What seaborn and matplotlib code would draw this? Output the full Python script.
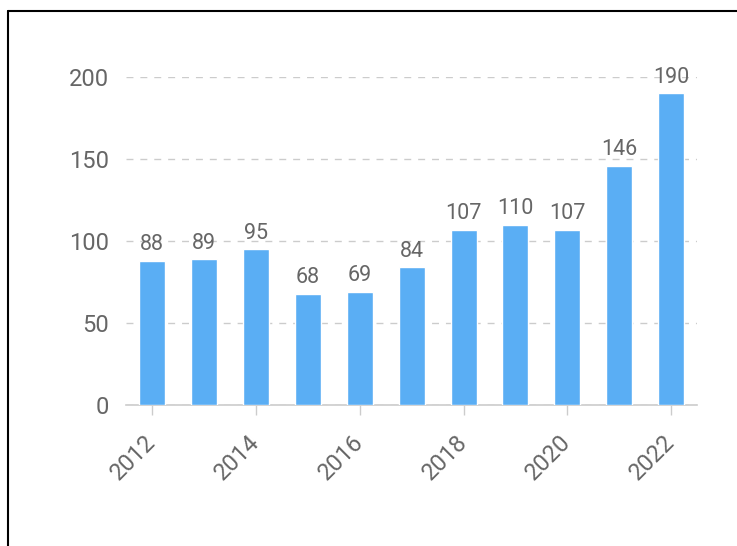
import matplotlib
matplotlib.use("Agg")
import matplotlib.pyplot as plt
import seaborn as sns
import pandas as pd
from matplotlib.lines import Line2D

# Data
years = ["2012", "2013", "2014", "2015", "2016", "2017",
         "2018", "2019", "2020", "2021", "2022"]
counts = [88, 89, 95, 68, 69, 84, 107, 110, 107, 146, 190]
tick_years = ["2012", "2014", "2016", "2018", "2020", "2022"]

df = pd.DataFrame({"year": years, "count": counts})

sns.set_theme(style="white")
plt.rcParams['font.family'] = ['Roboto', 'DejaVu Sans']

text_color = "#666666"
bar_color = "#5AAEF4"

fig = plt.figure(figsize=(7.37, 5.46), dpi=100)
ax = fig.add_axes([0.171, 0.258, 0.775, 0.601])

sns.barplot(data=df, x="year", y="count", color=bar_color,
            width=0.5, saturation=1, ax=ax, zorder=3)

# value labels on top of bars
for i, v in enumerate(counts):
    ax.annotate(str(v), (i, v), xytext=(0, 4), textcoords="offset points",
                ha="center", va="bottom", fontsize=15.5,
                color=text_color, zorder=4)

ax.set_xlim(-0.5, len(years) - 0.5)
ax.set_ylim(0, 200)
ax.set_yticks([0, 50, 100, 150, 200])
ax.yaxis.grid(True, linestyle=(0, (5, 5)), color="#cccccc", linewidth=1)
ax.set_axisbelow(True)

pos = [years.index(y) for y in tick_years]
ax.set_xticks(pos)
ax.set_xticklabels(tick_years, rotation=45, ha="right", va="center",
                   rotation_mode="anchor")
ax.tick_params(axis="x", length=7, width=1, color="#cccccc",
               labelsize=17, labelcolor=text_color, pad=17, bottom=True)
ax.tick_params(axis="y", length=0, labelsize=17, labelcolor=text_color, pad=12)

for s in ["top", "right", "left"]:
    ax.spines[s].set_visible(False)
ax.spines["bottom"].set_color("#cccccc")
ax.spines["bottom"].set_linewidth(1.2)

ax.set_xlabel("")
ax.set_ylabel("")

# black frame lines (top and left) as in the reference image
fig.add_artist(Line2D([0.0102, 1.0], [0.980, 0.980], color="black",
                      linewidth=1.5, transform=fig.transFigure))
fig.add_artist(Line2D([0.0102, 0.0102], [0.0, 0.980], color="black",
                      linewidth=1.5, transform=fig.transFigure))

fig.savefig("out.png", dpi=100)
